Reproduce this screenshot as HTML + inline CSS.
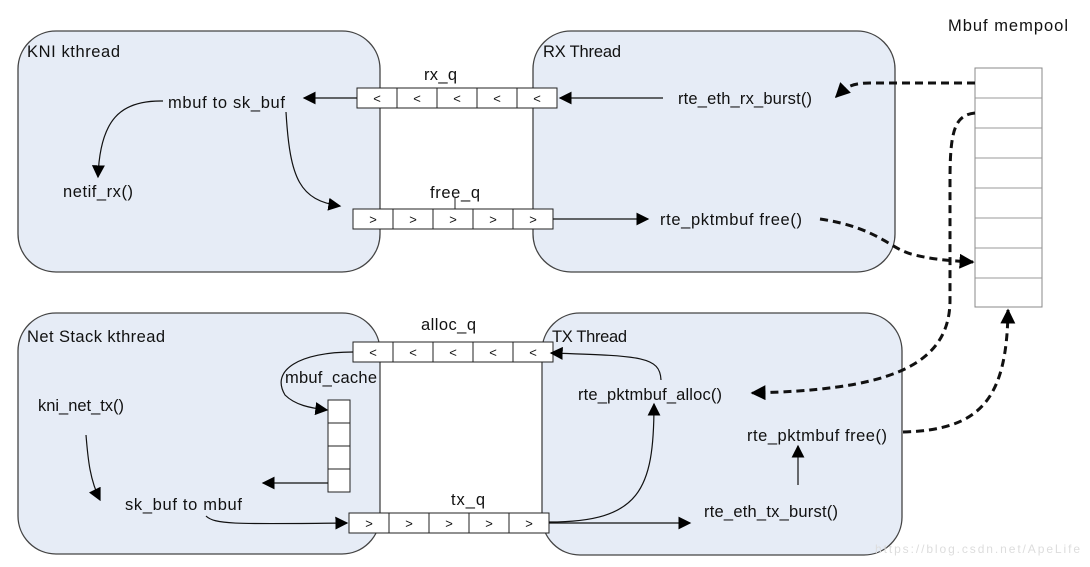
<!DOCTYPE html>
<html><head><meta charset="utf-8"><style>
html,body{margin:0;padding:0;background:#fff;}
svg{display:block;}
text{font-family:"Liberation Sans",sans-serif;font-size:16.5px;fill:#111;}
.c{font-size:13px;}
</style></head><body>
<svg width="1090" height="567" viewBox="0 0 1090 567" xmlns="http://www.w3.org/2000/svg">
<defs>
<marker id="a" viewBox="0 0 10 10" refX="9" refY="5" markerWidth="13" markerHeight="13" markerUnits="userSpaceOnUse" orient="auto"><path d="M0,0L10,5L0,10z" fill="#000"/></marker>
<marker id="b" viewBox="0 0 10 10" refX="9" refY="5" markerWidth="15" markerHeight="15" markerUnits="userSpaceOnUse" orient="auto"><path d="M0,0L10,5L0,10z" fill="#000"/></marker>
</defs>
<g fill="#e6ecf6" stroke="#444" stroke-width="1.3">
<rect x="18" y="31" width="362" height="241" rx="38"/>
<rect x="533" y="31" width="362" height="241" rx="38"/>
<rect x="18" y="313" width="362" height="241" rx="38"/>
<rect x="542" y="313" width="360" height="242" rx="38"/>
</g>
<text x="27" y="57" textLength="93">KNI  kthread</text>
<text x="543" y="57" textLength="78">RX Thread</text>
<text x="27" y="342" textLength="138">Net Stack kthread</text>
<text x="552" y="342" textLength="75">TX Thread</text>
<text x="948" y="31" textLength="120">Mbuf  mempool</text>
<g fill="#fff" stroke="#222" stroke-width="1">
<rect x="357" y="88" width="200" height="20"/>
<rect x="353" y="209" width="200" height="20"/>
<rect x="353" y="342" width="200" height="20"/>
<rect x="349" y="513" width="200" height="20"/>
<rect x="328" y="400" width="22" height="92"/>
<rect x="975" y="68" width="67" height="239" stroke="#888"/>
</g>
<g stroke="#222" stroke-width="1">
<path d="M397 88v20M437 88v20M477 88v20M517 88v20"/>
<path d="M393 209v20M433 209v20M473 209v20M513 209v20"/>
<path d="M393 342v20M433 342v20M473 342v20M513 342v20"/>
<path d="M389 513v20M429 513v20M469 513v20M509 513v20"/>
<path d="M328 423h22M328 446h22M328 469h22"/>
<path d="M455 198v11"/>
</g>
<g stroke="#999" stroke-width="1"><path d="M975 98h67M975 128h67M975 158h67M975 188h67M975 218h67M975 248h67M975 278h67"/></g>
<g text-anchor="middle">
<text class="c" x="377" y="103">&lt;</text><text class="c" x="417" y="103">&lt;</text><text class="c" x="457" y="103">&lt;</text><text class="c" x="497" y="103">&lt;</text><text class="c" x="537" y="103">&lt;</text>
<text class="c" x="373" y="224">&gt;</text><text class="c" x="413" y="224">&gt;</text><text class="c" x="453" y="224">&gt;</text><text class="c" x="493" y="224">&gt;</text><text class="c" x="533" y="224">&gt;</text>
<text class="c" x="373" y="357">&lt;</text><text class="c" x="413" y="357">&lt;</text><text class="c" x="453" y="357">&lt;</text><text class="c" x="493" y="357">&lt;</text><text class="c" x="533" y="357">&lt;</text>
<text class="c" x="369" y="528">&gt;</text><text class="c" x="409" y="528">&gt;</text><text class="c" x="449" y="528">&gt;</text><text class="c" x="489" y="528">&gt;</text><text class="c" x="529" y="528">&gt;</text>
</g>
<text x="424" y="80" textLength="33">rx_q</text>
<text x="430" y="198" textLength="50">free_q</text>
<text x="421" y="330" textLength="55">alloc_q</text>
<text x="451" y="505" textLength="34">tx_q</text>
<text x="285" y="383" textLength="92">mbuf_cache</text>
<text x="168" y="108" textLength="117">mbuf  to sk_buf</text>
<text x="63" y="197" textLength="70">netif_rx()</text>
<text x="678" y="104" textLength="134">rte_eth_rx_burst()</text>
<text x="660" y="225" textLength="142">rte_pktmbuf free()</text>
<text x="38" y="411" textLength="86">kni_net_tx()</text>
<text x="125" y="510" textLength="117">sk_buf  to mbuf</text>
<text x="578" y="400" textLength="144">rte_pktmbuf_alloc()</text>
<text x="747" y="441" textLength="140">rte_pktmbuf free()</text>
<text x="704" y="517" textLength="134">rte_eth_tx_burst()</text>
<text x="875" y="553" style="font-size:12px;fill:#ddd" textLength="205">https://blog.csdn.net/ApeLife</text>
<g fill="none" stroke="#111" stroke-width="1.2" marker-end="url(#a)">
<path d="M357 98H304"/>
<path d="M663 98H560"/>
<path d="M553 219H648"/>
<path d="M163 101C120 100 100 120 98 177"/>
<path d="M286 112C290 180 300 200 340 206"/>
<path d="M353 352C300 352 270 370 285 395C295 405 310 408 327 410"/>
<path d="M328 483H263"/>
<path d="M86 435C88 460 90 480 100 500"/>
<path d="M206 516C215 525 240 524 347 523"/>
<path d="M549 523H690"/>
<path d="M549 522C640 522 654 490 654 404"/>
<path d="M661 380C660 356 640 356 551 353"/>
<path d="M798 485V446"/>
</g>
<g fill="none" stroke="#111" stroke-width="3" stroke-dasharray="8,5" marker-end="url(#b)">
<path d="M975 83H870C850 83 845 88 836 97"/>
<path d="M820 219C880 228 890 250 915 255C935 260 955 261 973 262"/>
<path d="M975 113C955 115 950 130 950 180V300C950 370 880 390 752 393"/>
<path d="M903 432C980 430 1007 400 1008 310"/>
</g>
</svg>
</body></html>
